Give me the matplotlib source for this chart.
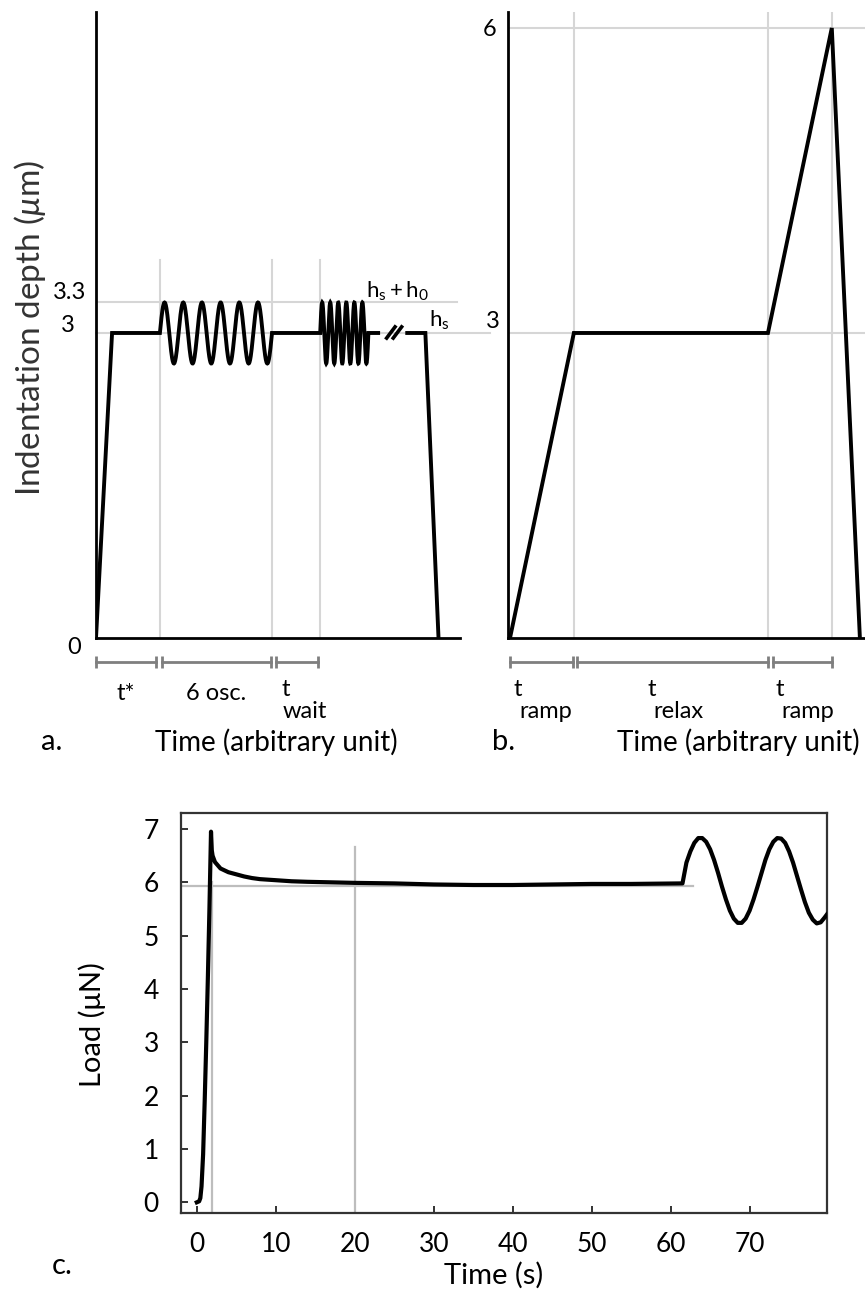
import numpy as np
import matplotlib
matplotlib.use('Agg')
import matplotlib.pyplot as plt

W, H = 865, 1291

# panel a: schematic depth protocol (arbitrary time, depth in um)
a_hs = 3.0
a_h0 = 0.3
a_n_osc = 6
a_ramp_end = 4.4
a_osc_start, a_osc_end = 17.5, 48.2
a_wait_end = 61.4
a_fast_end = 74.6
a_pre_break_end = 77.8
a_post_break_start = 84.7
a_hold_end = 90.2
a_unload_end = 93.8
a_axis_end = 99.8
a_xmax = 107.9
a_spans = [(0, 16.4), (18.1, 48.0), (49.3, 60.9)]

# panel b: ramp - relax - ramp
b_time = [0, 17.5, 70.7, 88.2, 95.9]
b_depth = [0, 3, 3, 6, 0]
b_spans = [(0, 17.2), (18.3, 70.6), (72.0, 88.2)]

# panel c: measured load (uN) vs time (s)
c_time = [0.0, 0.3, 0.45, 0.6, 0.8, 1.0, 1.2, 1.4, 1.6, 1.8, 1.9, 2.0, 2.3, 3.0,
          4.0, 5.0, 6.0, 7.0, 8.0, 9.0, 10, 12, 14, 17, 20, 25, 30, 35, 40, 45,
          50, 55, 61.5,
          62.0, 62.5, 63.0, 63.5, 64.0, 64.5, 65.0, 65.5, 66.0, 66.5, 67.0, 67.5,
          68.0, 68.5, 69.0, 69.5, 70.0, 70.5, 71.0, 71.5, 72.0, 72.5, 73.0, 73.5,
          74.0, 74.5, 75.0, 75.5, 76.0, 76.5, 77.0, 77.5, 78.0, 78.5, 79.0, 79.5,
          79.8]
c_load = [0.0, 0.02, 0.08, 0.3, 0.9, 1.9, 3.0, 4.2, 5.5, 6.95, 6.6, 6.5, 6.38, 6.26,
          6.19, 6.15, 6.11, 6.08, 6.06, 6.05, 6.04, 6.02, 6.01, 6.0, 5.99, 5.98, 5.96,
          5.95, 5.95, 5.96, 5.97, 5.97, 5.98,
          6.37, 6.58, 6.74, 6.83, 6.83, 6.76, 6.62, 6.42, 6.18, 5.92, 5.68, 5.47,
          5.32, 5.24, 5.24, 5.32, 5.47, 5.68, 5.92, 6.17, 6.42, 6.62, 6.76, 6.83,
          6.82, 6.74, 6.58, 6.37, 6.12, 5.87, 5.63, 5.43, 5.30, 5.23, 5.25, 5.34,
          5.40]
c_ref_load = 5.94
c_ref_end = 62.8
c_marks = [(1.9, 6.0), (20, 6.67)]

GRAY = '#d6d6d6'
BRACKET = '#7f7f7f'

plt.rcParams['font.family'] = ['Lato', 'DejaVu Sans']
plt.rcParams['mathtext.fontset'] = 'custom'
plt.rcParams['mathtext.rm'] = 'Lato'
plt.rcParams['mathtext.it'] = 'Lato:italic'
plt.rcParams['mathtext.default'] = 'regular'

fig = plt.figure(figsize=(W / 100, H / 100), dpi=100)


def px_axes(x0, y0, x1, y1):
    return fig.add_axes([x0 / W, 1 - y1 / H, (x1 - x0) / W, (y1 - y0) / H])


def px_text(x, y, s, **kw):
    fig.text(x / W, 1 - y / H, s, **kw)


def sine_piece(x0, x1, n, base, amp):
    x = np.linspace(x0, x1, 60 * n)
    return x, base + amp * np.sin(2 * np.pi * n * (x - x0) / (x1 - x0))


def schematic_axes(ax, xlim):
    ax.set_xlim(*xlim)
    ax.set_ylim(0, 6.157)
    for s in ('top', 'right'):
        ax.spines[s].set_visible(False)
    for s in ('left', 'bottom'):
        ax.spines[s].set_linewidth(2.0)
        ax.spines[s].set_color('black')
    ax.set_xticks([])
    ax.set_yticks([])
    ax.patch.set_alpha(0)


def brackets(ax, spans, y=-0.236):
    for x0, x1 in spans:
        ax.plot([x0, x1], [y, y], color=BRACKET, lw=2, marker='|', ms=9,
                mew=2, clip_on=False)


line_kw = dict(color='black', lw=2.8, solid_joinstyle='miter', solid_capstyle='butt')
FS_TICK = 17
FS_LAB = 20
ROW_T, ROW_SUB, ROW_LAB = 693, 711, 742

# ---- panel a ----
ax = px_axes(96, 12, 490, 638)
schematic_axes(ax, (0, a_xmax))
ax.spines['bottom'].set_bounds(0, a_axis_end)
for xv in (a_osc_start, a_osc_end, a_wait_end):
    ax.plot([xv, xv], [0, 3.72], color=GRAY, lw=1.5, zorder=1)
ax.plot([0, 98.9], [a_hs + a_h0] * 2, color=GRAY, lw=1.5, zorder=1)
ax.plot([0, a_xmax], [a_hs] * 2, color=GRAY, lw=1.5, zorder=1, clip_on=False)

xs1, ys1 = sine_piece(a_osc_start, a_osc_end, a_n_osc, a_hs, a_h0)
xs2, ys2 = sine_piece(a_wait_end, a_fast_end, a_n_osc, a_hs, a_h0)
xa = np.concatenate([[0, a_ramp_end], xs1, xs2, [a_pre_break_end]])
ya = np.concatenate([[0, a_hs], ys1, ys2, [a_hs]])
ax.plot(xa, ya, zorder=3, **line_kw)
ax.plot([a_post_break_start, a_hold_end, a_unload_end], [a_hs, a_hs, 0], zorder=3,
        clip_on=False, **line_kw)
ax.plot([79.6, 81.9], [2.95, 3.06], color='black', lw=2.6, zorder=3)
ax.plot([81.4, 83.7], [2.95, 3.06], color='black', lw=2.6, zorder=3)
ax.text(74.0, 3.35, r'$h_s + h_0$', fontsize=16, va='baseline', ha='left')
ax.text(91.2, 3.06, r'$h_s$', fontsize=16, va='baseline', ha='left')
brackets(ax, a_spans)

px_text(70, 293, '3.3', fontsize=FS_TICK, ha='center', va='center')
px_text(68, 325, '3', fontsize=FS_TICK, ha='center', va='center')
px_text(74, 648, '0', fontsize=FS_TICK, ha='center', va='center')
px_text(126, ROW_T, 't*', fontsize=FS_TICK, ha='center', va='center')
px_text(216, ROW_T, '6 osc.', fontsize=FS_TICK, ha='center', va='center')
px_text(281, ROW_T - 3, 't', fontsize=FS_TICK, ha='left', va='center')
px_text(283, ROW_SUB, 'wait', fontsize=FS_TICK, ha='left', va='center')
px_text(30, 328, r'Indentation depth ($\mathit{\mu}$m)', fontsize=24, rotation=90,
        ha='center', va='center', color='#333333')
px_text(52, ROW_LAB, 'a.', fontsize=FS_LAB + 1, ha='center', va='center')
px_text(276, ROW_LAB, 'Time (arbitrary unit)', fontsize=FS_LAB, ha='center',
        va='center')

# ---- panel b ----
bx = px_axes(508, 12, 865, 638)
schematic_axes(bx, (-0.55, 97.3))
for xv in b_time[1:4]:
    bx.plot([xv, xv], [0, 6.157], color=GRAY, lw=1.5, zorder=1)
for yv in (3, 6):
    bx.plot([-0.55, 97.3], [yv, yv], color=GRAY, lw=1.5, zorder=1)
bx.plot(b_time, b_depth, zorder=3, **line_kw)
brackets(bx, b_spans)

px_text(490, 30, '6', fontsize=FS_TICK, ha='center', va='center')
px_text(493, 322, '3', fontsize=FS_TICK, ha='center', va='center')
for tx, sub in ((513, 'ramp'), (647, 'relax'), (775, 'ramp')):
    px_text(tx, ROW_T - 3, 't', fontsize=FS_TICK, ha='left', va='center')
    px_text(tx + 6, ROW_SUB, sub, fontsize=FS_TICK, ha='left', va='center')
px_text(504, ROW_LAB, 'b.', fontsize=FS_LAB + 1, ha='center', va='center')
px_text(738, ROW_LAB, 'Time (arbitrary unit)', fontsize=FS_LAB, ha='center',
        va='center')

# ---- panel c ----
cx = px_axes(181, 813, 827, 1213)
cx.set_xlim(-2.0, 79.8)
cx.set_ylim(-0.2, 7.3)
cx.plot([-2.0, c_ref_end], [c_ref_load] * 2, color='#bdbdbd', lw=1.6, zorder=2)
for xv, ytop in c_marks:
    cx.plot([xv, xv], [-0.2, ytop], color='#bdbdbd', lw=1.6, zorder=2)
cx.plot(c_time, c_load, color='black', lw=3.0, zorder=3)
cx.set_xticks(range(0, 80, 10))
cx.set_yticks(range(0, 8))
cx.tick_params(direction='in', length=5, width=1.4, color='#333333',
               labelsize=19, pad=14)
cx.tick_params(axis='y', pad=16)
for s in cx.spines.values():
    s.set_linewidth(1.6)
    s.set_color('#333333')
px_text(494, 1275, 'Time (s)', fontsize=21, ha='center', va='center')
px_text(92, 1025, 'Load (μN)', fontsize=21, rotation=90, ha='center', va='center')
px_text(62, 1266, 'c.', fontsize=21, ha='center', va='center')

fig.savefig('out.png', dpi=100)
